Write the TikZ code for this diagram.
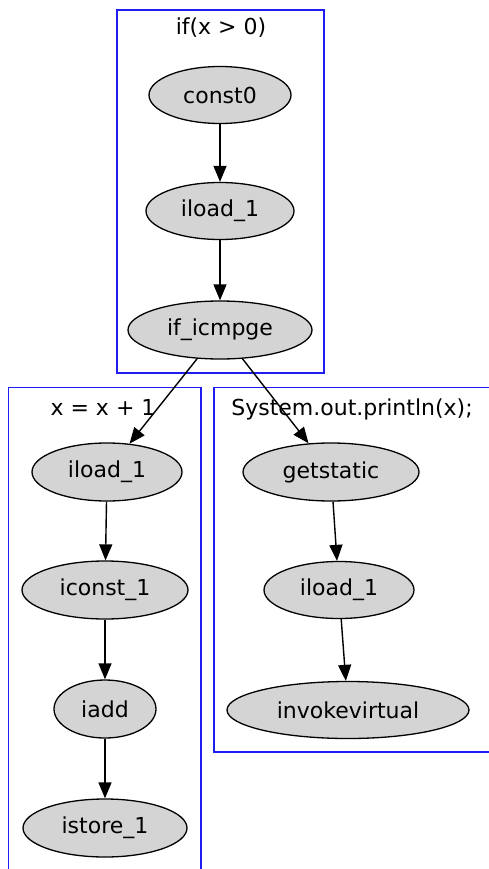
\documentclass[tikz,border=0pt]{standalone}
\usepackage{fontspec}
\setmainfont{DejaVu Sans}
\usetikzlibrary{shapes.geometric,arrows.meta}
\begin{document}
\begin{tikzpicture}[x=1pt,y=-1pt,
  op/.style={ellipse,draw=black,fill=black!17,line width=1.3pt,inner sep=0pt,font=\fontsize{22}{26}\selectfont},
  cluster/.style={draw={rgb,255:red,30;green,30;blue,240},line width=1.4pt},
  clabel/.style={anchor=base,inner sep=0pt,font=\fontsize{22}{26}\selectfont},
  flow/.style={line width=1.4pt,-{Triangle[length=16pt,width=13pt]}}]
\useasboundingbox (0,0) rectangle (489,869);
\fill[white] (0,0) rectangle (489,869);
% clusters
\draw[cluster] (117,10) rectangle (324,373);
\draw[cluster] (8.5,387.5) rectangle (201,885);
\draw[cluster] (214,387.5) rectangle (500,752);
\node[clabel] (l1) at (221,35) {if(x > 0)};
\node[clabel] (l2) at (103,415) {x = x + 1};
\node[clabel] (l3) at (352,415) {System.out.println(x);};
% nodes
\node[op,minimum width=142pt,minimum height=57pt] (c0) at (220,95) {const0};
\node[op,minimum width=148pt,minimum height=57pt] (il0) at (220,211) {iload\_1};
\node[op,minimum width=184pt,minimum height=58pt] (cmp) at (220,330) {if\_icmpge};
\node[op,minimum width=150pt,minimum height=58pt] (il1) at (107,472) {iload\_1};
\node[op,minimum width=166pt,minimum height=58pt] (ic1) at (105,590) {iconst\_1};
\node[op,minimum width=102pt,minimum height=58pt] (add) at (105,709) {iadd};
\node[op,minimum width=164pt,minimum height=58pt] (st1) at (105,828) {istore\_1};
\node[op,minimum width=176pt,minimum height=58pt] (gs) at (331,472) {getstatic};
\node[op,minimum width=150pt,minimum height=57pt] (il2) at (339,590) {iload\_1};
\node[op,minimum width=242pt,minimum height=57pt] (iv) at (348,710) {invokevirtual};
% edges
\draw[flow] (c0) -- (il0);
\draw[flow] (il0) -- (cmp);
\draw[flow] (cmp) -- (il1);
\draw[flow] (cmp) -- (gs);
\draw[flow] (il1) -- (ic1);
\draw[flow] (ic1) -- (add);
\draw[flow] (add) -- (st1);
\draw[flow] (gs) -- (il2);
\draw[flow] (il2) -- (iv);
\end{tikzpicture}
\end{document}
